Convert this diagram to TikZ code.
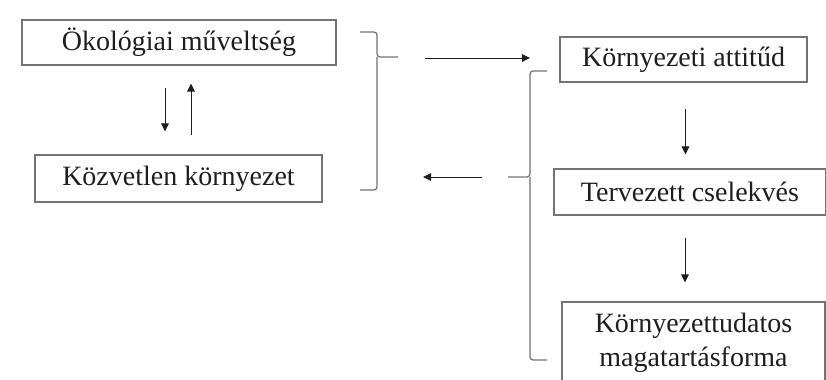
\documentclass[tikz,border=0pt]{standalone}
\usepackage{fontspec}
\setmainfont{Liberation Serif}
\usepackage{tikz}
\usetikzlibrary{arrows.meta,positioning,calc}
\definecolor{boxgray}{RGB}{115,115,115}
\definecolor{inkgray}{RGB}{30,30,30}

\begin{document}
\begin{tikzpicture}[x=0.5pt,y=-0.5pt,
    box/.style={draw=boxgray,line width=0.6pt,inner sep=0pt,align=center,
      text=inkgray,font=\fontsize{14}{17}\selectfont},
    arr/.style={-{Triangle[length=4pt,width=3.8pt]},line width=0.5pt,draw=inkgray},
    brace/.style={draw=boxgray,line width=0.6pt,rounded corners=1.5pt}]
  \useasboundingbox (0,0) rectangle (826,380);
  \clip (0,0) rectangle (826,380);
  % left column
  \node[box,minimum width=157pt,minimum height=22.5pt] (oko) at (179,42.5) {Ökológiai műveltség};
  \node[box,minimum width=143.5pt,minimum height=23.5pt] (koz) at (178.5,178.5) {Közvetlen környezet};
  \draw[arr,shorten <=11pt,shorten >=11.5pt] ([xshift=-7pt]oko.south) -- ([xshift=-7pt]oko.south |- koz.north);
  \draw[arr,shorten <=9.5pt,shorten >=9pt] ([xshift=6pt]oko.south |- koz.north) -- ([xshift=6pt]oko.south);
  % right column
  \node[box,minimum width=123.5pt,minimum height=22.5pt] (att) at (683.5,59.5) {Környezeti attitűd};
  \node[box,minimum width=136pt,minimum height=23pt] (terv) at (690,192) {Tervezett cselekvés};
  \node[box,minimum width=131.5pt,minimum height=41pt] (mag) at (693.5,343) {Környezettudatos\\magatartásforma};
  \draw[arr,shorten <=13pt,shorten >=7pt] ([xshift=1pt]att.south) -- ([xshift=1pt]att.south |- terv.north);
  \draw[arr,shorten <=11pt,shorten >=9.5pt] ([xshift=-2.5pt]terv.south) -- ([xshift=-2.5pt]terv.south |- mag.north);
  % braces
  \coordinate (rtip) at (398,57);
  \coordinate (ltip) at (508,177);
  \draw[brace] (360,32) -| (377,57) -- (rtip);
  \draw[brace] (377,57) |- (360,190);
  \draw[brace] (547,71) -| (530,177) -- (ltip);
  \draw[brace] (530,177) |- (547,360);
  % links between the braces
  \coordinate (outR) at (425,58);
  \coordinate (inR) at (530,58);
  \coordinate (outL) at (482,177);
  \coordinate (inL) at (423,177);
  \draw[arr] (outR) -- (inR);
  \draw[arr] (outL) -- (inL);
\end{tikzpicture}
\end{document}
